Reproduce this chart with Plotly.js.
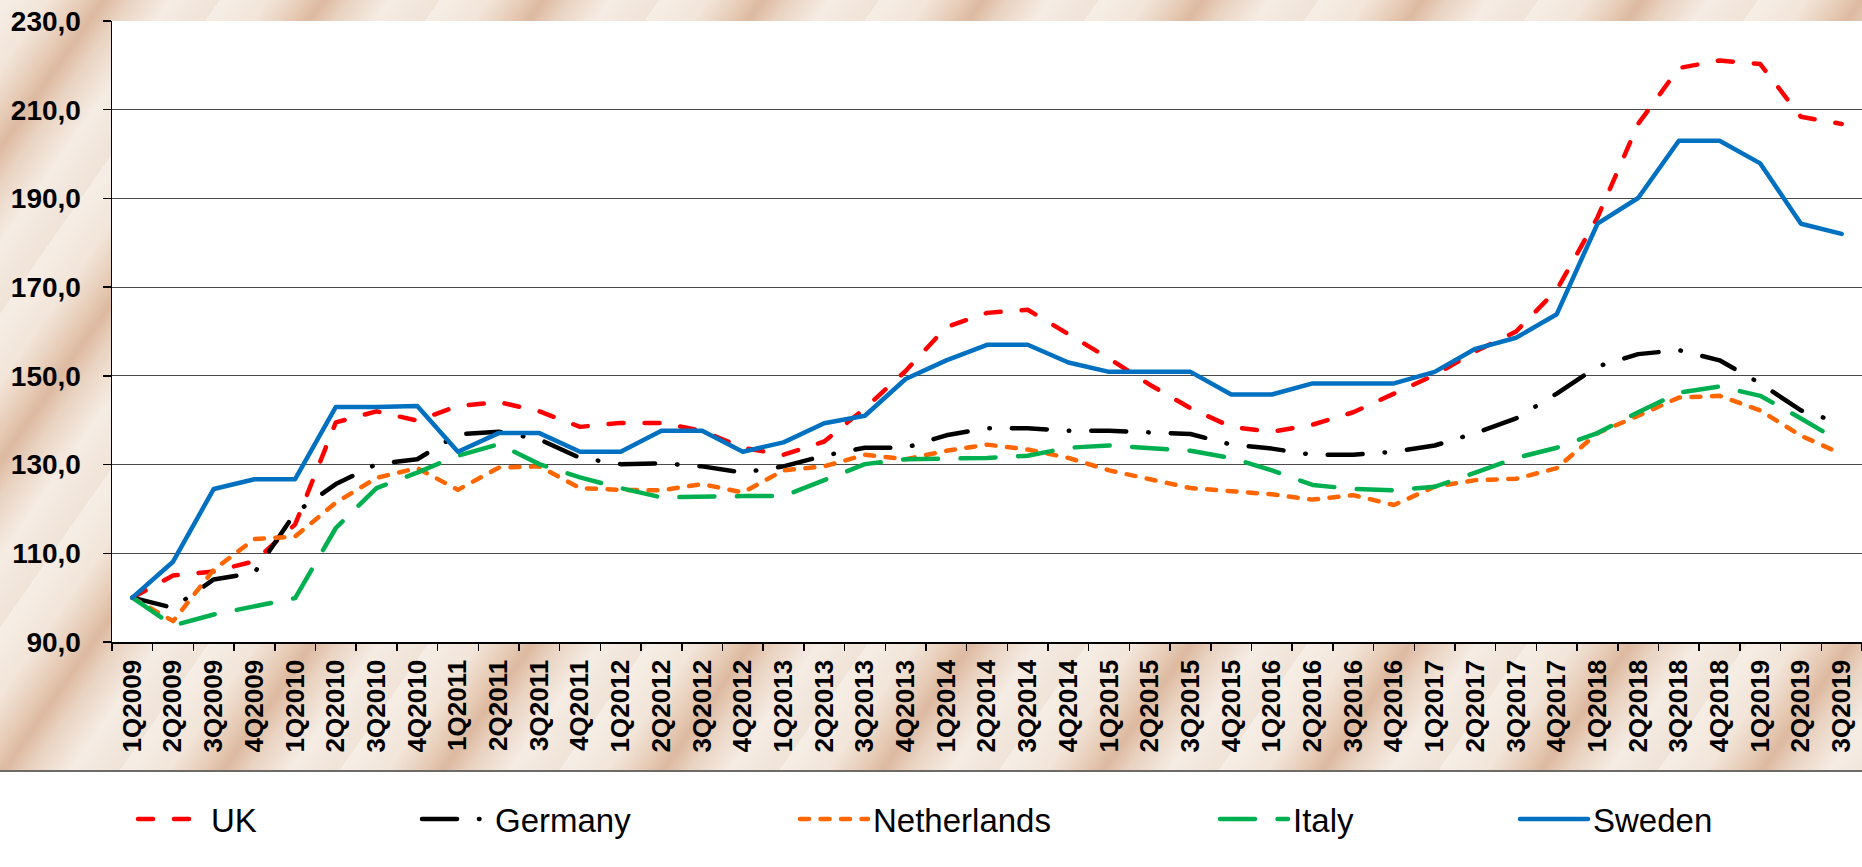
<!DOCTYPE html>
<html>
<head>
<meta charset="utf-8">
<script src="https://cdn.plot.ly/plotly-3.0.1.min.js"></script>
<style>
  html, body { margin: 0; padding: 0; width: 1862px; height: 867px; overflow: hidden; }
  body {
    background-color: #F0E2D5;
    background-image: repeating-linear-gradient(125deg,
      #F6EEE6 0px, #F2E5D9 40px, #E6CAB4 70px, #DDB9A0 85px, #E9D2C0 105px, #F5ECE4 140px, #F0E3D7 180px);
    position: relative;
  }
  #legendbg { position: absolute; left: 0; top: 770px; width: 1862px; height: 97px; background: #FFFFFF; border-top: 2px solid #6E6A66; box-sizing: border-box; }
  #chart { position: absolute; left: 0; top: 0; width: 1862px; height: 867px; }
  .js-line { stroke-linecap: round; stroke-linejoin: round; }
</style>
</head>
<body>
<div id="legendbg"></div>
<div id="chart"></div>
<script>
const quarters = [
  "1Q2009","2Q2009","3Q2009","4Q2009",
  "1Q2010","2Q2010","3Q2010","4Q2010",
  "1Q2011","2Q2011","3Q2011","4Q2011",
  "1Q2012","2Q2012","3Q2012","4Q2012",
  "1Q2013","2Q2013","3Q2013","4Q2013",
  "1Q2014","2Q2014","3Q2014","4Q2014",
  "1Q2015","2Q2015","3Q2015","4Q2015",
  "1Q2016","2Q2016","3Q2016","4Q2016",
  "1Q2017","2Q2017","3Q2017","4Q2017",
  "1Q2018","2Q2018","3Q2018","4Q2018",
  "1Q2019","2Q2019","3Q2019"
];

const uk = [100.0,105.0,105.9,108.2,116.5,139.5,142.0,139.9,143.2,144.1,142.0,138.5,139.4,139.4,137.6,133.8,132.2,135.2,142.7,151.1,161.0,164.2,164.9,159.3,153.9,148.0,142.7,138.5,137.4,139.0,141.8,146.0,150.2,155.5,160.0,169.4,185.7,206.8,219.4,221.1,220.3,208.4,206.8];
const germany = [100.0,97.7,104.1,105.6,119.1,125.6,130.1,131.2,136.8,137.4,135.7,131.5,130.1,130.3,129.6,128.2,129.6,132.0,133.8,133.8,136.6,138.2,138.2,137.6,137.6,137.3,136.9,134.5,133.6,132.2,132.2,132.9,134.3,137.1,140.4,146.0,152.1,154.9,155.8,153.5,148.3,142.2,139.3];
const netherlands = [100.0,94.7,106.3,113.2,113.8,121.4,127.0,129.2,124.3,129.3,129.6,124.7,124.3,124.2,125.6,123.7,128.7,129.6,132.2,131.2,133.1,134.5,133.4,131.5,128.7,126.8,124.7,124.0,123.3,122.1,123.1,120.9,125.0,126.5,126.8,129.2,137.1,141.0,145.1,145.5,142.2,136.5,132.4];
const italy = [100.0,93.7,96.2,98.0,99.9,115.7,124.7,128.2,132.0,134.6,130.1,127.1,124.7,122.6,122.8,122.9,122.9,126.4,130.1,131.2,131.3,131.5,132.0,133.8,134.3,133.8,133.1,131.5,128.7,125.4,124.5,124.2,125.0,128.2,131.5,133.8,137.1,141.8,146.2,147.6,145.5,140.4,135.0];
const sweden = [100.0,108.1,124.5,126.7,126.7,143.0,143.0,143.2,132.9,137.1,137.1,132.9,132.9,137.6,137.6,132.9,135.0,139.3,141.0,149.3,153.5,157.0,157.0,153.0,150.9,150.9,150.9,145.8,145.8,148.3,148.3,148.3,150.9,156.1,158.6,163.9,184.3,190.1,203.0,203.0,197.9,184.3,182.0];

const seriesNames = ["UK","Germany","Netherlands","Italy","Sweden"];
const seriesColors = ["#FF0000","#000000","#FF6600","#00B050","#0070C0"];
const seriesDash = ["15px,21px","35px,22px,0.5px,22px","9px,11.5px","35px,22.5px","solid"];
const seriesValues = [uk, germany, netherlands, italy, sweden];
const legendIds = ["legend","legend2","legend3","legend4","legend5"];
// legend left positions (px) for each entry
const legendLeftPx = [133, 417, 795, 1215, 1515];

const plotLeft = 112, plotRight = 1862, plotTop = 21, plotBottom = 642;
const plotW = plotRight - plotLeft, plotH = plotBottom - plotTop;

const traces = seriesValues.map((vals, k) => ({
  type: "scatter",
  mode: "lines",
  x: quarters,
  y: vals,
  name: seriesNames[k],
  legend: legendIds[k],
  line: { color: seriesColors[k], width: 4.5, dash: seriesDash[k] },
  hoverinfo: "x+y+name"
}));

const legendFont = { family: "Liberation Sans, Arial, sans-serif", size: 33, color: "#000000" };
const legendY = (plotBottom - 819) / plotH;

const layout = {
  width: 1862,
  height: 867,
  margin: { l: plotLeft, r: 1862 - plotRight, t: plotTop, b: 867 - plotBottom, pad: 0 },
  paper_bgcolor: "rgba(0,0,0,0)",
  plot_bgcolor: "#FFFFFF",
  separators: ",.",
  showlegend: true,
  xaxis: {
    type: "category",
    tickson: "boundaries",
    ticks: "outside",
    ticklen: 7,
    tickwidth: 1.5,
    tickcolor: "#000000",
    tickangle: -90,
    ticklabelstandoff: 6,
    tickfont: { family: "Liberation Sans, Arial, sans-serif", size: 26, color: "#000000", weight: "bold" },
    showgrid: false,
    showline: true,
    linecolor: "#000000",
    linewidth: 1.5,
    range: [-0.5, quarters.length - 0.5],
    fixedrange: true
  },
  yaxis: {
    range: [90, 230],
    dtick: 20,
    tick0: 90,
    tickformat: ".1f",
    ticks: "outside",
    ticklen: 8,
    tickwidth: 1.5,
    tickcolor: "#000000",
    ticklabelstandoff: 16,
    tickfont: { family: "Liberation Sans, Arial, sans-serif", size: 28, color: "#000000", weight: "bold" },
    showgrid: true,
    gridcolor: "#4A4A4A",
    gridwidth: 1.2,
    zeroline: false,
    showline: true,
    linecolor: "#000000",
    linewidth: 1.5,
    fixedrange: true
  }
};

legendIds.forEach((id, k) => {
  layout[id] = {
    x: (legendLeftPx[k] - plotLeft) / plotW,
    y: legendY,
    xanchor: "left",
    yanchor: "middle",
    orientation: "h",
    bgcolor: "rgba(0,0,0,0)",
    borderwidth: 0,
    itemwidth: 68,
    font: legendFont
  };
});

Plotly.newPlot("chart", traces, layout, { displayModeBar: false, staticPlot: true });
</script>
</body>
</html>
